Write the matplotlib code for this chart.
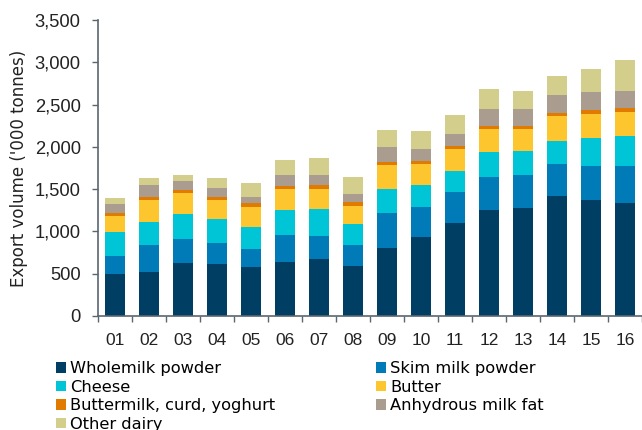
import numpy as np
import matplotlib
matplotlib.use('Agg')
import matplotlib.pyplot as plt
from matplotlib.patches import Patch

# Years (2001-2016) and export volumes ('000 tonnes) by product
years = ['01', '02', '03', '04', '05', '06', '07', '08',
         '09', '10', '11', '12', '13', '14', '15', '16']
wholemilk = [495, 518, 628, 620, 577, 636, 671, 597, 809, 938, 1099, 1252, 1276, 1414, 1366, 1331]
skim = [215, 318, 287, 248, 216, 318, 279, 243, 404, 346, 362, 389, 393, 381, 413, 444]
cheese = [283, 275, 287, 275, 264, 295, 310, 244, 291, 263, 251, 303, 278, 278, 330, 354]
butter = [189, 255, 247, 227, 235, 251, 236, 220, 279, 248, 259, 267, 260, 295, 279, 289]
buttermilk = [35, 47, 39, 40, 43, 43, 51, 39, 43, 35, 35, 39, 39, 35, 42, 44]
amf = [102, 134, 110, 102, 75, 130, 118, 102, 169, 145, 150, 192, 196, 208, 217, 204]
other = [79, 83, 75, 118, 165, 176, 204, 204, 204, 216, 224, 244, 224, 232, 278, 361]

series = [
    ('Wholemilk powder', wholemilk, '#003f63'),
    ('Skim milk powder', skim, '#007bb8'),
    ('Cheese', cheese, '#00c5d7'),
    ('Butter', butter, '#fdc62f'),
    ('Buttermilk, curd, yoghurt', buttermilk, '#e07b00'),
    ('Anhydrous milk fat', amf, '#aa9d90'),
    ('Other dairy', other, '#d4ce8c'),
]

fig = plt.figure(figsize=(6.42, 4.30), dpi=100)
ax = fig.add_axes([98 / 642, 1 - 316 / 430, 1 - 98 / 642, (316 - 20) / 430])

x = np.arange(len(years))
bottom = np.zeros(len(years))
for name, vals, col in series:
    ax.bar(x, vals, width=0.58, bottom=bottom, color=col, label=name,
           edgecolor='none')
    bottom += np.array(vals)

ax.set_xlim(-0.5, 15.42)
ax.set_ylim(0, 3500)
ax.set_yticks(np.arange(0, 3501, 500))
ax.set_yticklabels([f'{v:,}' for v in range(0, 3501, 500)],
                   family='Liberation Sans', fontsize=13.2, color='#222222')

# ticks between the bars, labels under the bars
ax.set_xticks(np.arange(-0.5, 15.6, 1))
ax.set_xticklabels([])
ax.set_xticks(x, minor=True)
ax.set_xticklabels(years, minor=True, family='Liberation Sans',
                   fontsize=12.5, color='#222222')
ax.tick_params(axis='x', which='minor', length=0, pad=12)
ax.tick_params(axis='x', which='major', length=4, width=1, color='#5a6670')
ax.tick_params(axis='y', length=4.5, width=1, color='#5a6670', pad=8)

for s in ['top', 'right']:
    ax.spines[s].set_visible(False)
for s in ['left', 'bottom']:
    ax.spines[s].set_color('#5a6670')
    ax.spines[s].set_linewidth(1.2)

ax.set_ylabel("Export volume ('000 tonnes)", fontsize=12, color='#222222',
              labelpad=5)

# legend laid out row by row: two legends, one per column
handles = [Patch(facecolor=c, edgecolor='none') for _, _, c in series]
labels = [n for n, _, _ in series]
leg_kw = dict(loc='upper left', frameon=False, fontsize=11.7,
              handlelength=0.62, handleheight=0.62, handletextpad=0.25,
              labelspacing=0.22, borderaxespad=0, borderpad=0)
leg1 = fig.legend(handles[0::2], labels[0::2],
                  bbox_to_anchor=(56 / 642, 1 - 361 / 430), **leg_kw)
leg2 = fig.legend(handles[1::2], labels[1::2],
                  bbox_to_anchor=(376 / 642, 1 - 361 / 430), **leg_kw)

fig.savefig('out.png', dpi=100)
